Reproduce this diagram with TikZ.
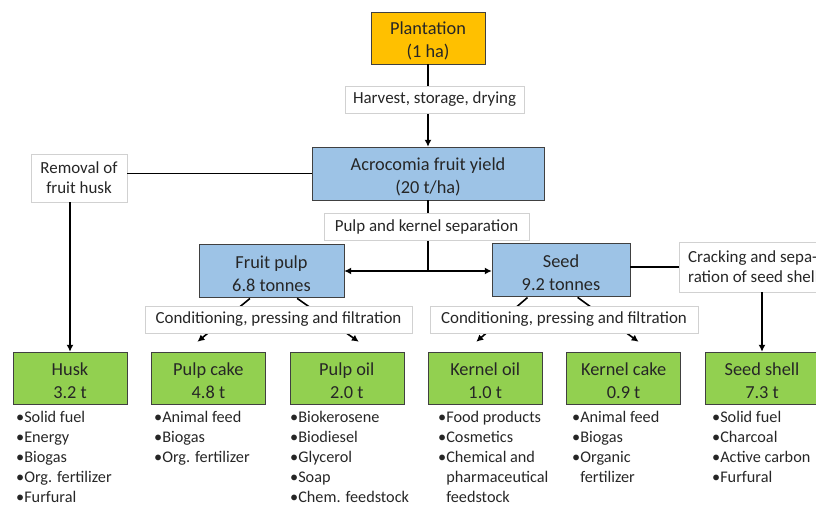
\documentclass[tikz,border=0pt]{standalone}
\usepackage{fontspec}
\setmainfont{Carlito}
\usepackage{tikz}
\usetikzlibrary{arrows.meta,positioning,calc}

\definecolor{plantorange}{HTML}{FFC000}
\definecolor{stageblue}{HTML}{9DC3E6}
\definecolor{prodgreen}{HTML}{92D050}
\newcommand{\boxtop}{\rule{0pt}{19bp}}

\begin{document}
\begin{tikzpicture}[
  x=1bp, y=-1bp,
  node distance=24bp,
  every node/.style={text=black!85},
  plantbox/.style={draw=black!75, fill=plantorange, align=center, inner sep=0pt, minimum width=114bp, minimum height=52bp, font=\fontsize{18.4}{23}\selectfont},
  stage/.style={draw=black!75, fill=stageblue, align=center, inner sep=0pt, minimum height=53bp, font=\fontsize{18.4}{23}\selectfont},
  prod/.style={draw=black!75, fill=prodgreen, align=center, inner sep=0pt, minimum width=114bp, minimum height=52bp, font=\fontsize{18.4}{23}\selectfont},
  opbox/.style={draw=black!18, fill=white, align=center, inner sep=0pt, minimum height=27bp, font=\fontsize{17}{20}\selectfont},
  uses/.style={anchor=north west, align=left, inner sep=0pt, font=\fontsize{16.3}{20}\selectfont},
  arr/.style={-{Latex[length=7bp, width=7bp]}, line width=1.6bp},
  link/.style={line width=1.6bp}
]
\useasboundingbox (0,0) rectangle (816,519);

\node[plantbox] (plant) at (428,38) {\boxtop Plantation\\(1 ha)};
\node[stage, minimum width=232bp] (fruit) at (428,173.5) {\boxtop Acrocomia fruit yield\\(20 t/ha)};
\node[opbox, minimum width=96bp, minimum height=48bp] (husking) at (79,178) {Removal of\\fruit husk};
\node[stage, minimum width=145bp] (pulp) at (271.5,270.5) {\boxtop Fruit pulp\\6.8 tonnes};
\node[stage, minimum width=138bp] (seed) at (561,269.5) {\boxtop Seed\\9.2 tonnes};
\node[opbox, anchor=west, align=left, minimum height=50bp, inner xsep=9bp] (cracking) at (679,267) {Cracking and sepa-\\ration of seed shell};

\node[prod] (husk) at (70,378) {\boxtop Husk\\3.2 t};
\node[prod, right=of husk] (pcake) {\boxtop Pulp cake\\4.8 t};
\node[prod, right=of pcake] (poil) {\boxtop Pulp oil\\2.0 t};
\node[prod, right=of poil] (koil) {\boxtop Kernel oil\\1.0 t};
\node[prod, right=of koil] (kcake) {\boxtop Kernel cake\\0.9 t};
\node[prod, right=of kcake] (shell) {\boxtop Seed shell\\7.3 t};

\coordinate (split) at (fruit.south |- 0,271);
\draw[arr] (plant) -- (fruit);
\draw[link] (fruit.west) -- (fruit.west -| husking.east);
\draw[arr] (husking.south -| husk.north) -- (husk.north);
\draw[link] (fruit.south) -- (split);
\draw[arr] (split) -- (split -| pulp.east);
\draw[arr] (split) -- (split -| seed.west);
\draw[link] (seed.east |- cracking.west) -- (cracking.west);
\draw[arr] (cracking.south -| shell.north) -- (shell.north);
\draw[arr, shorten <=2bp] ([xshift=-20bp]pulp.south) -- ([xshift=-11bp, yshift=10bp]pcake.north);
\draw[arr, shorten <=2bp] ([xshift=24bp]pulp.south) -- ([xshift=12bp, yshift=10bp]poil.north);
\draw[arr, shorten <=2bp] ([xshift=-32bp]seed.south) -- ([xshift=-9bp, yshift=10bp]koil.north);
\draw[arr, shorten <=2bp] ([xshift=15bp]seed.south) -- ([xshift=15bp, yshift=10bp]kcake.north);

\node[opbox, minimum width=179bp] (harvest) at (434.5,99.5) {Harvest, storage, drying};
\node[opbox, minimum width=205bp] (separation) at (426.5,226.5) {Pulp and kernel separation};
\node[opbox, minimum width=267bp] (pressing1) at (278.5,319.5) {Conditioning, pressing and filtration};
\node[opbox, minimum width=268bp] (pressing2) at (564,319.5) {Conditioning, pressing and filtration};

\node[uses] (husk-uses) at (16,411) {•Solid fuel\\•Energy\\•Biogas\\•Org. fertilizer\\•Furfural};
\node[uses] (pcake-uses) at (154,411) {•Animal feed\\•Biogas\\•Org. fertilizer};
\node[uses] (poil-uses) at (290,411) {•Biokerosene\\•Biodiesel\\•Glycerol\\•Soap\\•Chem. feedstock};
\node[uses] (koil-uses) at (438,411) {•Food products\\•Cosmetics\\•Chemical and\\\phantom{•}pharmaceutical\\\phantom{•}feedstock};
\node[uses] (kcake-uses) at (572,411) {•Animal feed\\•Biogas\\•Organic\\\phantom{•}fertilizer};
\node[uses] (shell-uses) at (712,411) {•Solid fuel\\•Charcoal\\•Active carbon\\•Furfural};
\end{tikzpicture}
\end{document}
